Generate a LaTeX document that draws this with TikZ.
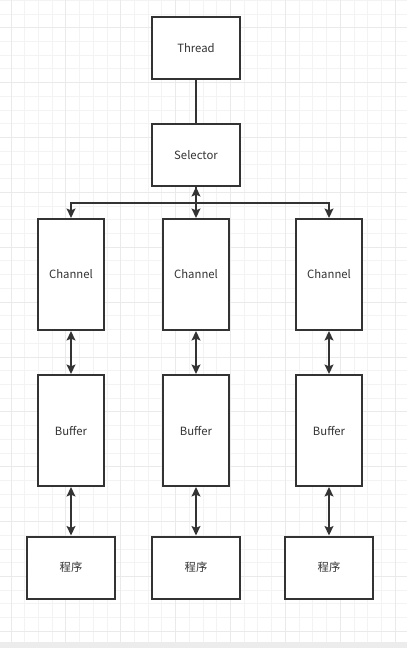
\documentclass[tikz,border=0pt]{standalone}
\usepackage{fontspec}
\newfontfamily\cjk{Noto Sans CJK SC}
\usetikzlibrary{arrows.meta}
\definecolor{ink}{HTML}{333333}
\definecolor{gridminor}{HTML}{F3F3F3}
\definecolor{gridmajor}{HTML}{EAEAEA}
\definecolor{band}{HTML}{ECECEC}
\tikzset{
  wide/.style={draw=ink, line width=1.5pt, fill=white, inner sep=0pt,
    minimum width=66pt, minimum height=46.5pt, text=ink, font=\cjk\fontsize{8.5}{10}\selectfont},
  tall/.style={wide, minimum width=49.5pt, minimum height=83.25pt},
  link/.style={draw=ink, line width=1.5pt},
  tip/.style={link, -{Stealth[length=7pt,width=6.5pt,inset=1.2pt]}},
  both/.style={link, {Stealth[length=7pt,width=6.5pt,inset=1.2pt]}-{Stealth[length=7pt,width=6.5pt,inset=1.2pt]}}
}
\begin{document}
\begin{tikzpicture}[x=0.75pt,y=-0.75pt]
\useasboundingbox (0,0) rectangle (407,648);
\fill[white] (0,0) rectangle (407,648);
% grid
\foreach \i in {0,...,28} {
  \draw[gridminor, line width=0.75pt] ({11+13.72*\i},0) -- ({11+13.72*\i},642);
}
\foreach \j in {0,...,46} {
  \draw[gridminor, line width=0.75pt] (0,{0.3+13.72*\j}) -- (407,{0.3+13.72*\j});
}
\foreach \i in {0,...,7} {
  \draw[gridmajor, line width=0.75pt] ({11+54.88*\i},0) -- ({11+54.88*\i},642);
}
\foreach \j in {0,...,11} {
  \draw[gridmajor, line width=0.75pt] (0,{27.74+54.88*\j}) -- (407,{27.74+54.88*\j});
}
\fill[band] (0,642) rectangle (407,648);

% nodes
\node[wide] (thread) at (196,48) {Thread};
\node[wide] (sel) at (196,155) {Selector};
\node[tall] (ch1) at (71,274.5) {Channel};
\node[tall] (ch2) at (196,274.5) {Channel};
\node[tall] (ch3) at (329,274.5) {Channel};
\node[tall] (bf1) at (71,430.5) {Buffer};
\node[tall] (bf2) at (196,430.5) {Buffer};
\node[tall] (bf3) at (329,430.5) {Buffer};
\node[wide] (p1) at (71,567.5) {程序};
\node[wide] (p2) at (196,567.5) {程序};
\node[wide] (p3) at (329,567.5) {程序};
\coordinate (bus) at (196,203);

% connectors
\draw[link] (thread) -- (sel);
\draw[tip] (sel.south) -- (bus) -| (ch1.north);
\draw[tip] (sel.south) -- (bus) -| (ch3.north);
\draw[both] (sel) -- (ch2);
\draw[both] (ch1) -- (bf1);
\draw[both] (ch2) -- (bf2);
\draw[both] (ch3) -- (bf3);
\draw[both] (bf1) -- (p1);
\draw[both] (bf2) -- (p2);
\draw[both] (bf3) -- (p3);
\end{tikzpicture}
\end{document}
